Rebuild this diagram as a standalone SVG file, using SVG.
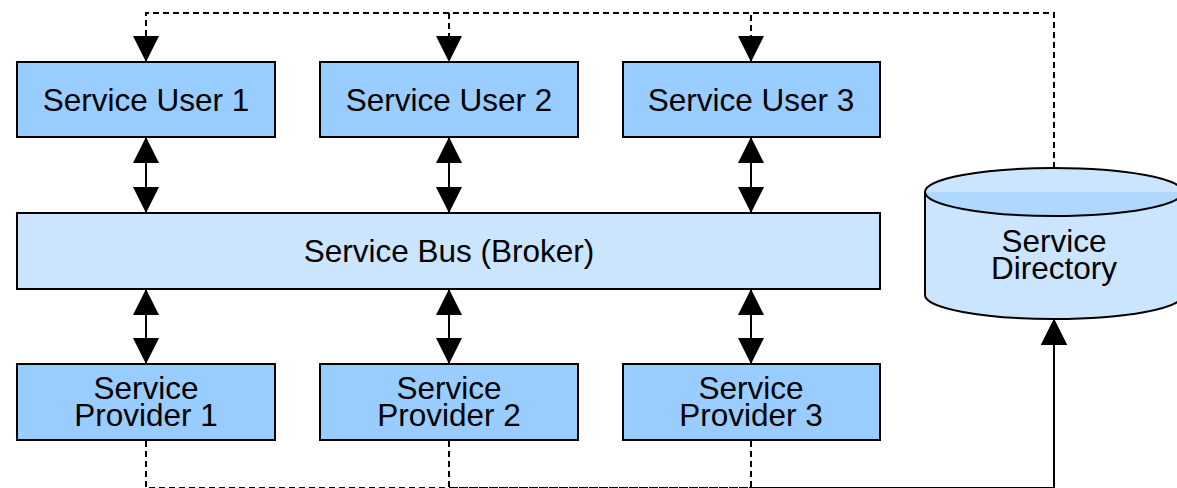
<svg xmlns="http://www.w3.org/2000/svg" width="1177" height="488" viewBox="0 0 1177 488">
<style>
.box{fill:#99ccff;stroke:#000;stroke-width:2}
.bus{fill:#cce5ff;stroke:#000;stroke-width:2}
.t{font-family:"Liberation Sans",Arial,sans-serif;font-size:31.5px;fill:#000;text-anchor:middle}
.solid{fill:none;stroke:#000;stroke-width:2}
.dash{fill:none;stroke:#000;stroke-width:2;stroke-dasharray:6 4}
</style>
<defs>
<marker id="ah" markerUnits="userSpaceOnUse" markerWidth="26" markerHeight="26" viewBox="0 0 26 26" refX="25" refY="13" orient="auto-start-reverse">
<path d="M0,0 L26,13 L0,26 z" fill="#000"/>
</marker>
<linearGradient id="top" x1="0" y1="0" x2="0" y2="1">
<stop offset="0.5" stop-color="#cce5ff"/>
<stop offset="0.5" stop-color="#b0d8ff"/>
</linearGradient>
</defs>
<g id="connectors">
<path class="dash" d="M1054,168 L1054,13 L146,13 L146,61" marker-end="url(#ah)"/>
<path class="dash" d="M1054,168 L1054,13 L449,13 L449,61" marker-end="url(#ah)"/>
<path class="dash" d="M1054,168 L1054,13 L751,13 L751,61" marker-end="url(#ah)"/>
<path class="solid" d="M146,138 L146,212" marker-start="url(#ah)" marker-end="url(#ah)"/>
<path class="solid" d="M449,138 L449,212" marker-start="url(#ah)" marker-end="url(#ah)"/>
<path class="solid" d="M751,138 L751,212" marker-start="url(#ah)" marker-end="url(#ah)"/>
<path class="solid" d="M146,290 L146,363" marker-start="url(#ah)" marker-end="url(#ah)"/>
<path class="solid" d="M449,290 L449,363" marker-start="url(#ah)" marker-end="url(#ah)"/>
<path class="solid" d="M751,290 L751,363" marker-start="url(#ah)" marker-end="url(#ah)"/>
<path class="dash" d="M146,441 L146,488 L1054,488 L1054,320" marker-end="url(#ah)"/>
<path class="dash" d="M449,441 L449,488 L1054,488 L1054,320" marker-end="url(#ah)"/>
<path class="dash" d="M751,441 L751,488 L1054,488 L1054,320" marker-end="url(#ah)"/>
<path class="solid" d="M751,488 L1054,488 L1054,320"/>
</g>
<g id="user1"><rect class="box" x="17" y="62" width="258" height="75"/><text class="t" x="146" y="111">Service User 1</text></g>
<g id="user2"><rect class="box" x="320" y="62" width="258" height="75"/><text class="t" x="449" y="111">Service User 2</text></g>
<g id="user3"><rect class="box" x="623" y="62" width="257" height="75"/><text class="t" x="751" y="111">Service User 3</text></g>
<g id="bus"><rect class="bus" x="17" y="213" width="863" height="76"/><text class="t" x="449" y="262">Service Bus (Broker)</text></g>
<g id="provider1"><rect class="box" x="17" y="364" width="258" height="76"/><text class="t" x="146" y="398.5">Service</text><text class="t" x="146" y="426">Provider 1</text></g>
<g id="provider2"><rect class="box" x="320" y="364" width="258" height="76"/><text class="t" x="449" y="398.5">Service</text><text class="t" x="449" y="426">Provider 2</text></g>
<g id="provider3"><rect class="box" x="623" y="364" width="257" height="76"/><text class="t" x="751" y="398.5">Service</text><text class="t" x="751" y="426">Provider 3</text></g>
<g id="directory">
<path d="M925,192 L925,295 A129,24 0 0 0 1183,295 L1183,192 Z" fill="#cce5ff" stroke="#000" stroke-width="2"/>
<ellipse cx="1054" cy="192" rx="129" ry="24" fill="url(#top)" stroke="#000" stroke-width="2"/>
<text class="t" x="1054" y="251.5">Service</text>
<text class="t" x="1054" y="279">Directory</text>
</g>
</svg>
